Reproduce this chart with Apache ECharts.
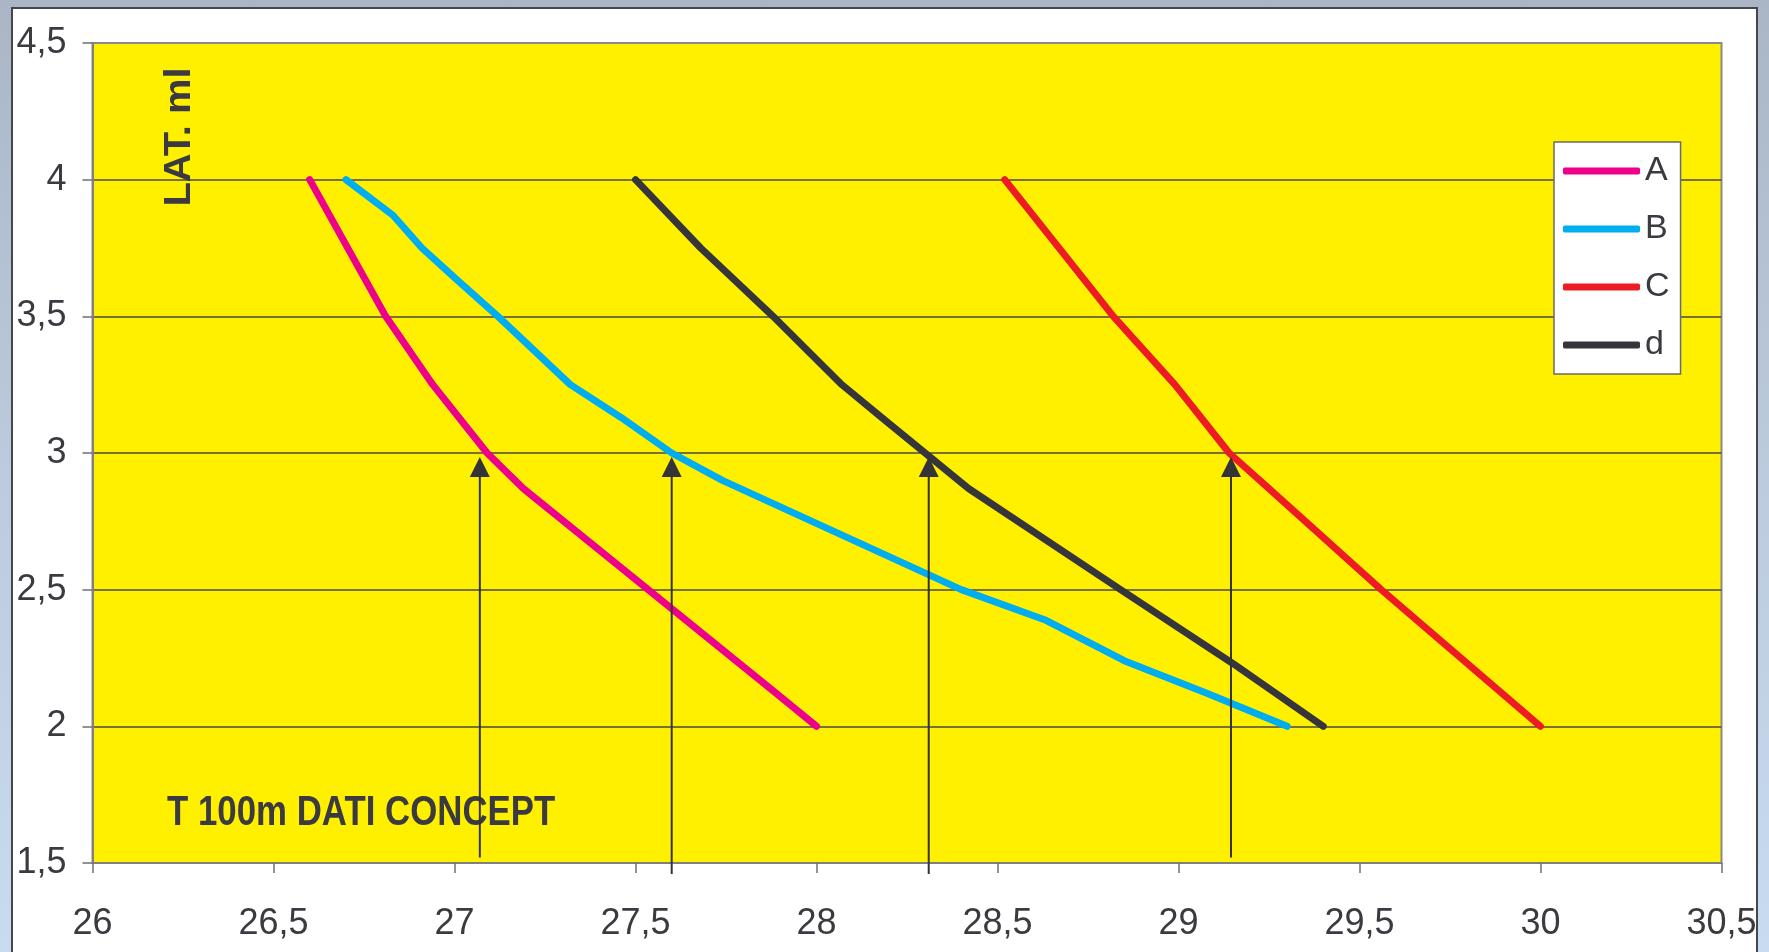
<!DOCTYPE html>
<html>
<head>
<meta charset="utf-8">
<script src="https://cdn.jsdelivr.net/npm/echarts@6/dist/echarts.min.js"></script>
<style>
  html, body { margin: 0; padding: 0; width: 1769px; height: 952px; overflow: hidden; }
  body { background: linear-gradient(180deg, #aab6c6 0%, #bccbdd 50%, #c8dbf0 100%); position: relative; }
  #panel { position: absolute; left: 11px; top: 7px; width: 1747px; height: 980px;
           background: #ffffff; border: 2px solid #46464c; box-sizing: border-box; }
  #chart { position: absolute; left: 0; top: 0; width: 1769px; height: 952px; }
</style>
</head>
<body>
<div id="panel"></div>
<div id="chart"></div>
<script>
// Lactate (LAT. ml) against 100 m time for four swimmers
const seriesNames = ['A', 'B', 'C', 'd'];
const seriesColors = ['#ec008c', '#00aeef', '#ed1c24', '#35353a'];

const timeA = [26.60, 26.81, 26.94, 27.09, 27.19, 27.88, 28.00];
const latA  = [4.00, 3.50, 3.25, 3.00, 2.87, 2.13, 2.00];

const timeB = [26.70, 26.83, 26.91, 27.01, 27.12, 27.32, 27.46, 27.60, 27.74, 28.40, 28.63, 28.85, 29.08, 29.30];
const latB  = [4.00, 3.87, 3.75, 3.63, 3.50, 3.25, 3.13, 3.00, 2.90, 2.50, 2.39, 2.24, 2.12, 2.00];

const timeC = [28.52, 28.82, 28.99, 29.14, 29.25, 29.56, 30.00];
const latC  = [4.00, 3.50, 3.25, 3.00, 2.87, 2.50, 2.00];

const timeD = [27.50, 27.68, 27.88, 28.07, 28.18, 28.30, 28.42, 28.84, 29.15, 29.40];
const latD  = [4.00, 3.75, 3.50, 3.25, 3.13, 3.00, 2.87, 2.50, 2.23, 2.00];

// Threshold markers: time where each curve reaches 3 ml
const arrowTime   = [27.07, 27.60, 28.31, 29.145];
const arrowBottom = [1.52, 1.46, 1.46, 1.52];
const arrowTip    = [2.985, 2.985, 2.985, 2.985];

const xTicks = { min: 26, max: 30.5, step: 0.5 };
const yTicks = { min: 1.5, max: 4.5, step: 0.5 };

const chartTitle = 'T 100m DATI CONCEPT';
const yTitle = 'LAT. ml';

const allTimes = [timeA, timeB, timeC, timeD];
const allLat = [latA, latB, latC, latD];

const comma = v => String(v).replace('.', ',');
const textColor = '#3a3a40';
const baseFont = '"Liberation Sans", Arial, Helvetica, sans-serif';

const lineSeries = seriesNames.map((name, i) => ({
  name: name,
  type: 'line',
  data: allTimes[i].map((t, k) => [t, allLat[i][k]]),
  showSymbol: false,
  symbol: 'none',
  smooth: false,
  lineStyle: { color: seriesColors[i], width: 7, cap: 'round', join: 'round' },
  itemStyle: { color: seriesColors[i] },
  z: 3
}));

const arrowSeries = {
  type: 'custom',
  name: 'arrows',
  clip: false,
  z: 5,
  silent: true,
  encode: { x: 0, y: [1, 2] },
  data: arrowTime.map((t, i) => [t, arrowBottom[i], arrowTip[i]]),
  renderItem: function (params, api) {
    const p0 = api.coord([api.value(0), api.value(1)]);
    const p1 = api.coord([api.value(0), api.value(2)]);
    const hw = 10, hh = 20;
    return {
      type: 'group',
      children: [
        { type: 'line', shape: { x1: p0[0], y1: p0[1], x2: p1[0], y2: p1[1] + hh - 1 },
          style: { stroke: '#333338', lineWidth: 2 } },
        { type: 'polygon', shape: { points: [[p1[0], p1[1]], [p1[0] - hw, p1[1] + hh], [p1[0] + hw, p1[1] + hh]] },
          style: { fill: '#333338' } }
      ]
    };
  }
};

const chart = echarts.init(document.getElementById('chart'), null, { renderer: 'canvas' });
chart.setOption({
  animation: false,
  backgroundColor: 'transparent',
  grid: {
    left: 92.5, top: 43, right: 47.5, bottom: 89,
    show: true, backgroundColor: '#fff000', borderColor: '#8a8a8a', borderWidth: 2
  },
  xAxis: {
    type: 'value', min: xTicks.min, max: xTicks.max, interval: xTicks.step,
    axisLine: { show: true, lineStyle: { color: '#808080', width: 2 } },
    axisTick: { show: true, length: 10, lineStyle: { color: '#707070', width: 1.5 } },
    splitLine: { show: false },
    axisLabel: { margin: 43, fontSize: 36, color: textColor, fontFamily: baseFont,
                 formatter: v => comma(v) }
  },
  yAxis: {
    type: 'value', min: yTicks.min, max: yTicks.max, interval: yTicks.step,
    axisLine: { show: true, lineStyle: { color: '#808080', width: 2 } },
    axisTick: { show: true, length: 10, lineStyle: { color: '#707070', width: 1.5 } },
    splitLine: { show: true, showMinLine: false, showMaxLine: false,
                 lineStyle: { color: '#4a4a46', width: 1.5 } },
    axisLabel: { margin: 26, fontSize: 36, color: textColor, fontFamily: baseFont,
                 formatter: v => comma(v) }
  },
  legend: {
    orient: 'vertical',
    left: 1554, top: 142,
    data: seriesNames,
    icon: 'roundRect',
    itemWidth: 77, itemHeight: 7,
    itemGap: 24,
    padding: [12, 11, 12, 9],
    backgroundColor: '#ffffff',
    borderColor: '#6a6a6a', borderWidth: 1.5, borderRadius: 0,
    textStyle: { fontSize: 34, lineHeight: 34, color: textColor, fontFamily: baseFont, padding: [0, 0, 0, 0] }
  },
  graphic: [
    { type: 'text', x: 167, y: 813, z: 4, scaleX: 0.81,
      style: { text: chartTitle, fill: textColor, font: 'bold 43px ' + baseFont,
               textAlign: 'left', textVerticalAlign: 'middle' } },
    { type: 'text', x: 180, y: 137, z: 4, rotation: Math.PI / 2, scaleX: 1.08,
      style: { text: yTitle, fill: textColor, font: 'bold 37px ' + baseFont,
               textAlign: 'center', textVerticalAlign: 'middle' } }
  ],
  series: lineSeries.concat([arrowSeries])
});
</script>
</body>
</html>
